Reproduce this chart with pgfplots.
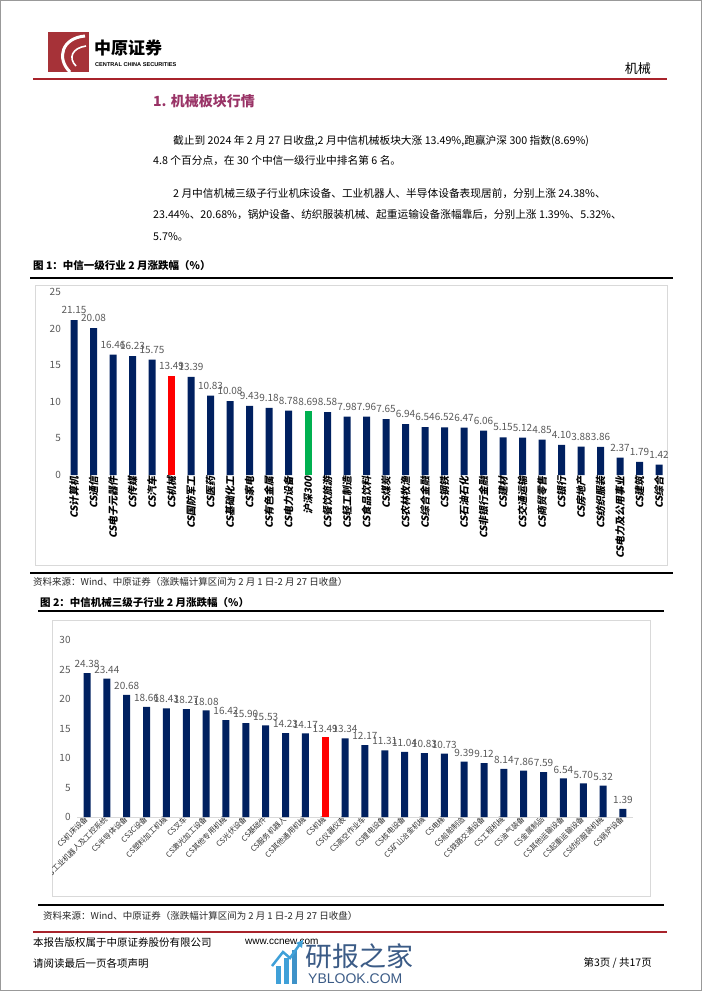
\documentclass[border=0pt]{standalone}
\usepackage{fontspec}
\usepackage{pgfplots}
\pgfplotsset{compat=1.18}
\setmainfont{Noto Sans CJK SC}
\newfontfamily\labfont{Noto Sans CJK SC}[FakeSlant=0.2]
\newfontfamily\arialf{Liberation Sans}
\definecolor{barblue}{HTML}{002060}
\definecolor{barred}{HTML}{FF0000}
\definecolor{bargreen}{HTML}{00B050}
\definecolor{tickgray}{HTML}{595959}
\definecolor{headred}{HTML}{A8232B}
\definecolor{logored}{HTML}{A63238}
\definecolor{secpurple}{HTML}{993366}
\definecolor{boxgray}{HTML}{D9D9D9}
\definecolor{wmblue}{HTML}{3B5B86}
\definecolor{wmcyan}{HTML}{3FA0D8}
\newcommand{\fs}[1]{\fontsize{#1}{#1}\selectfont}

\begin{document}
\begin{tikzpicture}[x=1pt,y=-1pt]
\useasboundingbox (0,0) rectangle (702,991);
\draw[gray!80, line width=1pt] (0.5,0.5) rectangle (701.5,990.5);

% header
\fill[logored] (48,32) rectangle (89,72);
\draw[white, line width=3pt] (85,36) .. controls (62,38) and (56,58) .. (70,72);
\draw[white, line width=1.6pt] (86,46) .. controls (72,48) and (68,58) .. (76,66);
\node[anchor=west, inner sep=0, font=\fs{17}\bfseries] at (94,48) {中原证券};
\node[anchor=west, inner sep=0, font=\arialf\fs{5.6}\bfseries] at (95,65) {CENTRAL CHINA SECURITIES};
\node[anchor=east, inner sep=0, font=\fs{13}] at (651,69) {机械};
\draw[headred, line width=1.6pt] (33,79) -- (667,79);

% section text
\node[anchor=west, inner sep=0, text=secpurple, font=\fs{14}\bfseries] at (153,101) {1. 机械板块行情};
\begin{scope}[every node/.style={anchor=west, inner sep=0, font=\fs{10.7}}]
\node at (173,141) {截止到 2024 年 2 月 27 日收盘,2 月中信机械板块大涨 13.49\%,跑赢沪深 300 指数(8.69\%)};
\node at (153,161) {4.8 个百分点，在 30 个中信一级行业中排名第 6 名。};
\node at (173,194) {2 月中信机械三级子行业机床设备、工业机器人、半导体设备表现居前，分别上涨 24.38\%、};
\node at (153,215) {23.44\%、20.68\%，锅炉设备、纺织服装机械、起重运输设备涨幅靠后，分别上涨 1.39\%、5.32\%、};
\node at (153,237) {5.7\%。};
\end{scope}

% figure 1 frame
\node[anchor=west, inner sep=0, font=\fs{10.5}\bfseries] at (33,265) {图 1：中信一级行业 2 月涨跌幅（\%）};
\draw[black, line width=1.3pt] (30,278) -- (673,278);
\draw[boxgray, line width=0.6pt] (35,285) rectangle (667,565);
\draw[black, line width=1.3pt] (30,573) -- (673,573);
\node[anchor=west, inner sep=0, font=\fs{9.5}, text=black!85] at (33,582) {资料来源：Wind、中原证券（涨跌幅计算区间为 2 月 1 日-2 月 27 日收盘）};

\begin{axis}[
  at={(60.35pt,-475pt)}, anchor=south west,
  scale only axis, width=604.5pt, height=183pt,
  xmin=-0.7, xmax=30.3, ymin=0, ymax=25,
  ybar, bar width=7pt,
  axis line style={draw=none}, major tick length=0pt,
  ytick={0,5,...,25},
  yticklabel style={font=\fs{10}, text=tickgray, xshift=4pt, /pgf/number format/assume math mode=true},
  xtick={0,...,30},
  xticklabels={CS计算机,CS通信,CS电子元器件,CS传媒,CS汽车,CS机械,CS国防军工,CS医药,CS基础化工,CS家电,CS有色金属,CS电力设备,沪深300,CS餐饮旅游,CS轻工制造,CS食品饮料,CS煤炭,CS农林牧渔,CS综合金融,CS钢铁,CS石油石化,CS非银行金融,CS建材,CS交通运输,CS商贸零售,CS银行,CS房地产,CS纺织服装,CS电力及公用事业,CS建筑,CS综合},
  xticklabel style={rotate=90, anchor=east, inner sep=1pt, font=\labfont\bfseries\fs{10}},
  nodes near coords,
  every node near coord/.append style={font=\fs{10}, text=tickgray, inner sep=2pt, yshift=4pt,
    /pgf/number format/.cd, fixed, fixed zerofill, precision=2, assume math mode=true},
  clip=false,
]
\addplot[fill=barblue, draw=none, bar shift=0pt] coordinates {
(0,21.15)(1,20.08)(2,16.46)(3,16.23)(4,15.75)(6,13.39)(7,10.83)(8,10.08)(9,9.43)(10,9.18)(11,8.78)(13,8.58)(14,7.98)(15,7.96)(16,7.65)(17,6.94)(18,6.54)(19,6.52)(20,6.47)(21,6.06)(22,5.15)(23,5.12)(24,4.85)(25,4.10)(26,3.88)(27,3.86)(28,2.37)(29,1.79)(30,1.42)};
\addplot[fill=barred, draw=none, bar shift=0pt] coordinates {(5,13.49)};
\addplot[fill=bargreen, draw=none, bar shift=0pt] coordinates {(12,8.69)};
\end{axis}

% figure 2 frame
\node[anchor=west, inner sep=0, font=\fs{10.5}\bfseries] at (40,602) {图 2：中信机械三级子行业 2 月涨跌幅（\%）};
\draw[black, line width=1.3pt] (38,611) -- (664,611);
\draw[boxgray, line width=0.6pt] (52,620) rectangle (650,896);
\draw[black, line width=1.3pt] (38,905) -- (664,905);
\node[anchor=west, inner sep=0, font=\fs{9.5}, text=black!85] at (43,916) {资料来源：Wind、中原证券（涨跌幅计算区间为 2 月 1 日-2 月 27 日收盘）};

\begin{scope}
\clip (52.5,620.5) rectangle (649.5,895.5);
\begin{axis}[
  at={(75.09pt,-817pt)}, anchor=south west,
  scale only axis, width=559.77pt, height=177pt,
  xmin=-0.6, xmax=27.6, ymin=0, ymax=30,
  ybar, bar width=7pt,
  axis line style={draw=none}, major tick length=0pt,
  ytick={0,5,...,30},
  yticklabel style={font=\fs{10}, text=tickgray, xshift=-1pt, /pgf/number format/assume math mode=true},
  xtick={0,...,27},
  xticklabels={CS机床设备,CS工业机器人及工控系统,CS半导体设备,CS3C设备,CS塑料加工机械,CS叉车,CS激光加工设备,CS其他专用机械,CS光伏设备,CS基础件,CS服务机器人,CS其他通用机械,CS机械,CS仪器仪表,CS高空作业车,CS锂电设备,CS核电设备,CS矿山冶金机械,CS电梯,CS船舶制造,CS铁路交通设备,CS工程机械,CS油气装备,CS金属制品,CS其他运输设备,CS起重运输设备,CS纺织服装机械,CS锅炉设备},
  xticklabel style={rotate=45, anchor=east, inner sep=1pt, font=\fs{7.5}, text=black!80},
  nodes near coords,
  every node near coord/.append style={font=\fs{10}, text=tickgray, inner sep=2pt, yshift=3pt,
    /pgf/number format/.cd, fixed, fixed zerofill, precision=2, assume math mode=true},
  clip=false,
]
\draw[boxgray, line width=0.8pt] (axis cs:-0.5,0) -- (axis cs:27.5,0);
\addplot[fill=barblue, draw=none, bar shift=0pt] coordinates {
(0,24.38)(1,23.44)(2,20.68)(3,18.66)(4,18.43)(5,18.27)(6,18.08)(7,16.42)(8,15.90)(9,15.53)(10,14.23)(11,14.17)(13,13.34)(14,12.17)(15,11.31)(16,11.04)(17,10.83)(18,10.73)(19,9.39)(20,9.12)(21,8.14)(22,7.86)(23,7.59)(24,6.54)(25,5.70)(26,5.32)(27,1.39)};
\addplot[fill=barred, draw=none, bar shift=0pt] coordinates {(12,13.49)};
\end{axis}
\end{scope}

% footer
\draw[headred, line width=1.6pt] (33,932) -- (667,932);
\node[anchor=west, inner sep=0, font=\fs{10.5}] at (33,943) {本报告版权属于中原证券股份有限公司};
\node[anchor=west, inner sep=0, font=\arialf\fs{10}] at (245,942) {www.ccnew.com};
\node[anchor=west, inner sep=0, font=\fs{10.5}] at (33,963) {请阅读最后一页各项声明};
\node[anchor=east, inner sep=0, font=\fs{10.5}] at (652,963) {第3页 / 共17页};

% watermark
\fill[wmcyan] (276,984) rectangle (281,966);
\fill[wmcyan] (284,984) rectangle (289,958);
\fill[wmcyan!80!wmblue] (292,984) rectangle (297,950);
\draw[wmcyan, line width=2.5pt] (272,966) -- (283,952) -- (290,958) -- (300,944);
\fill[wmcyan] (303,940) -- (296,943) -- (302,948) -- cycle;
\node[anchor=west, inner sep=0, text=wmblue, font=\fs{27}] at (305,956) {研报之家};
\node[anchor=west, inner sep=0, text=wmblue, font=\arialf\fs{14}] at (308,979) {YBLOOK.COM};
\end{tikzpicture}
\end{document}
